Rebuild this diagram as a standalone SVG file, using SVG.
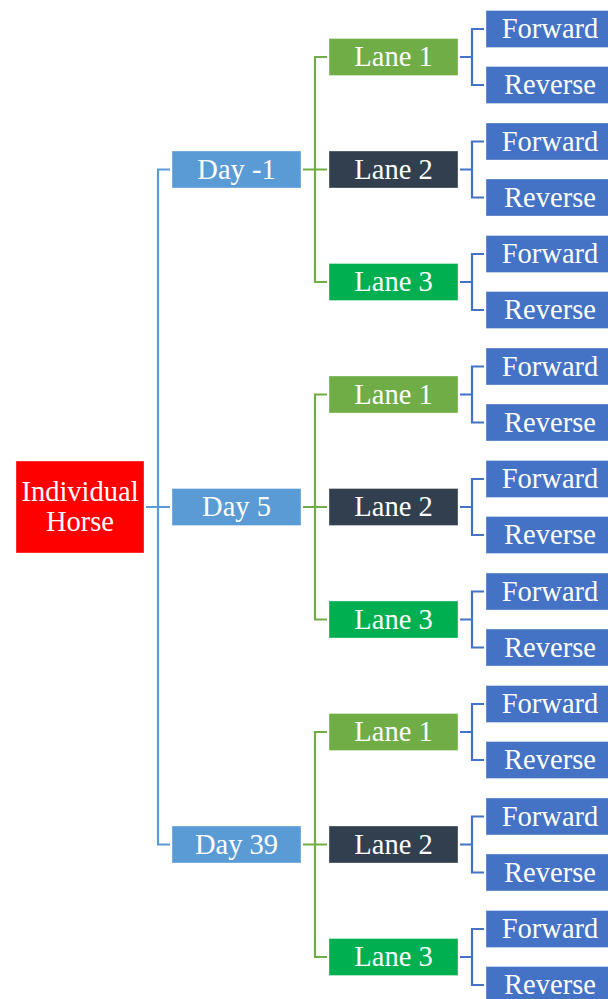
<svg xmlns="http://www.w3.org/2000/svg" width="608" height="999" viewBox="0 0 608 999">
<style>
text{font-family:'Liberation Serif','DejaVu Serif',serif;font-size:28.5px;fill:#fff;text-anchor:middle}
rect{stroke:#fff;stroke-opacity:0.35;stroke-width:1}
.horse{fill:#FF0000}
.day{fill:#5B9BD5}
.l1{fill:#70AD47}
.l2{fill:#323F4F}
.l3{fill:#00B050}
.fr{fill:#4472C4}
.c1{fill:none;stroke:#5B9BD5;stroke-width:2.2}
.c2{fill:none;stroke:#70AD47;stroke-width:2.2}
.c3{fill:none;stroke:#4472C4;stroke-width:2.2}
</style>
<g id="connectors">
<path class="c1" d="M146,507H170M170,169.5H158V844.5H170"/>
<path class="c2" d="M303,169.5H327M327,57H315V282H327"/>
<path class="c2" d="M303,507H327M327,394.5H315V619.5H327"/>
<path class="c2" d="M303,844.5H327M327,732H315V957H327"/>
<path class="c3" d="M460,57H472M484,29H472V85H484"/>
<path class="c3" d="M460,169.5H472M484,141.5H472V197.5H484"/>
<path class="c3" d="M460,282H472M484,254H472V310H484"/>
<path class="c3" d="M460,394.5H472M484,366.5H472V422.5H484"/>
<path class="c3" d="M460,507H472M484,479H472V535H484"/>
<path class="c3" d="M460,619.5H472M484,591.5H472V647.5H484"/>
<path class="c3" d="M460,732H472M484,704H472V760H484"/>
<path class="c3" d="M460,844.5H472M484,816.5H472V872.5H484"/>
<path class="c3" d="M460,957H472M484,929H472V985H484"/>
</g>
<g id="horse"><rect class="horse" x="16" y="461" width="128" height="92"/><text x="80" y="501">Individual</text><text x="80" y="531">Horse</text></g>
<g id="day-1"><rect class="day" x="172" y="151" width="129" height="37"/><text x="236.5" y="178.5">Day -1</text></g>
<g id="day5"><rect class="day" x="172" y="488.5" width="129" height="37"/><text x="236.5" y="516">Day 5</text></g>
<g id="day39"><rect class="day" x="172" y="826" width="129" height="37"/><text x="236.5" y="853.5">Day 39</text></g>
<g id="d1-lane1"><rect class="l1" x="329" y="38.5" width="129" height="37"/><text x="393.5" y="66">Lane 1</text></g>
<g id="d1-lane2"><rect class="l2" x="329" y="151" width="129" height="37"/><text x="393.5" y="178.5">Lane 2</text></g>
<g id="d1-lane3"><rect class="l3" x="329" y="263.5" width="129" height="37"/><text x="393.5" y="291">Lane 3</text></g>
<g id="d5-lane1"><rect class="l1" x="329" y="376" width="129" height="37"/><text x="393.5" y="403.5">Lane 1</text></g>
<g id="d5-lane2"><rect class="l2" x="329" y="488.5" width="129" height="37"/><text x="393.5" y="516">Lane 2</text></g>
<g id="d5-lane3"><rect class="l3" x="329" y="601" width="129" height="37"/><text x="393.5" y="628.5">Lane 3</text></g>
<g id="d39-lane1"><rect class="l1" x="329" y="713.5" width="129" height="37"/><text x="393.5" y="741">Lane 1</text></g>
<g id="d39-lane2"><rect class="l2" x="329" y="826" width="129" height="37"/><text x="393.5" y="853.5">Lane 2</text></g>
<g id="d39-lane3"><rect class="l3" x="329" y="938.5" width="129" height="37"/><text x="393.5" y="966">Lane 3</text></g>
<g id="f1"><rect class="fr" x="486" y="10.5" width="128" height="37"/><text x="550" y="38">Forward</text></g>
<g id="r1"><rect class="fr" x="486" y="66.5" width="128" height="37"/><text x="550" y="94">Reverse</text></g>
<g id="f2"><rect class="fr" x="486" y="123" width="128" height="37"/><text x="550" y="150.5">Forward</text></g>
<g id="r2"><rect class="fr" x="486" y="179" width="128" height="37"/><text x="550" y="206.5">Reverse</text></g>
<g id="f3"><rect class="fr" x="486" y="235.5" width="128" height="37"/><text x="550" y="263">Forward</text></g>
<g id="r3"><rect class="fr" x="486" y="291.5" width="128" height="37"/><text x="550" y="319">Reverse</text></g>
<g id="f4"><rect class="fr" x="486" y="348" width="128" height="37"/><text x="550" y="375.5">Forward</text></g>
<g id="r4"><rect class="fr" x="486" y="404" width="128" height="37"/><text x="550" y="431.5">Reverse</text></g>
<g id="f5"><rect class="fr" x="486" y="460.5" width="128" height="37"/><text x="550" y="488">Forward</text></g>
<g id="r5"><rect class="fr" x="486" y="516.5" width="128" height="37"/><text x="550" y="544">Reverse</text></g>
<g id="f6"><rect class="fr" x="486" y="573" width="128" height="37"/><text x="550" y="600.5">Forward</text></g>
<g id="r6"><rect class="fr" x="486" y="629" width="128" height="37"/><text x="550" y="656.5">Reverse</text></g>
<g id="f7"><rect class="fr" x="486" y="685.5" width="128" height="37"/><text x="550" y="713">Forward</text></g>
<g id="r7"><rect class="fr" x="486" y="741.5" width="128" height="37"/><text x="550" y="769">Reverse</text></g>
<g id="f8"><rect class="fr" x="486" y="798" width="128" height="37"/><text x="550" y="825.5">Forward</text></g>
<g id="r8"><rect class="fr" x="486" y="854" width="128" height="37"/><text x="550" y="881.5">Reverse</text></g>
<g id="f9"><rect class="fr" x="486" y="910.5" width="128" height="37"/><text x="550" y="938">Forward</text></g>
<g id="r9"><rect class="fr" x="486" y="966.5" width="128" height="37"/><text x="550" y="994">Reverse</text></g>
</svg>
